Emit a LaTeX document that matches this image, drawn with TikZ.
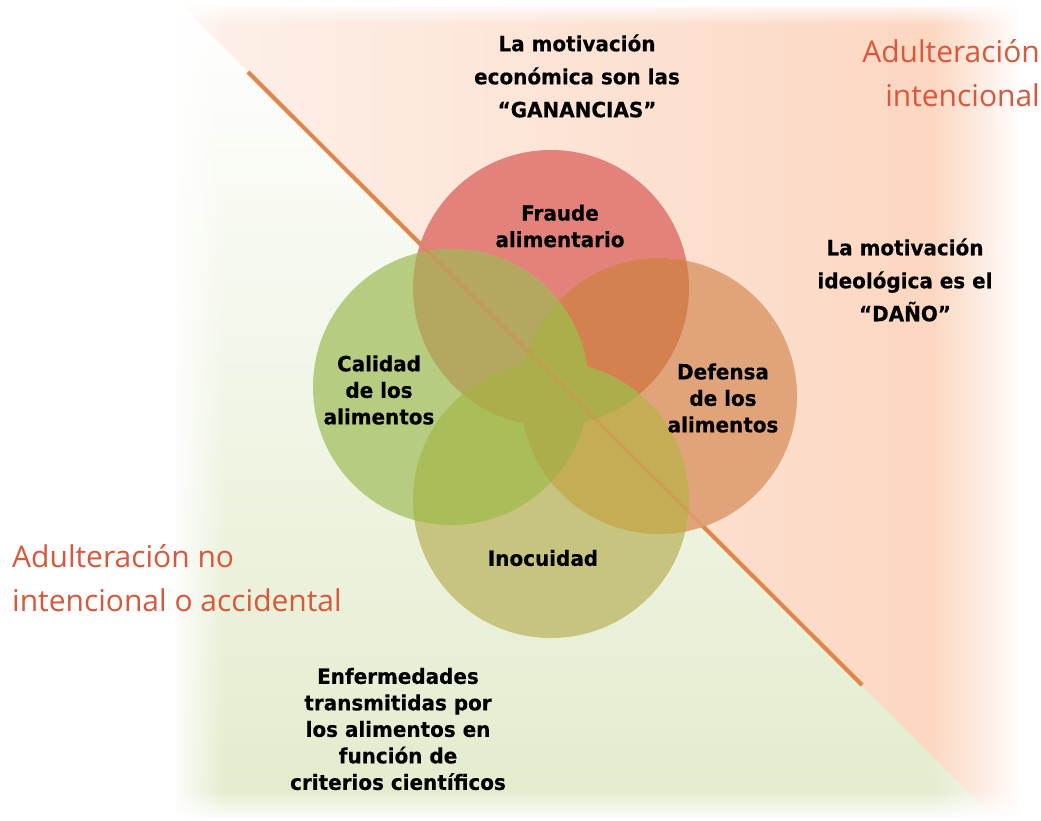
\documentclass[tikz,border=0pt]{standalone}
\usepackage{fontspec}
\setmainfont{Open Sans}
\newfontfamily\lblfont{DejaVu Sans}[FakeStretch=0.95, BoldFeatures={FakeBold=0.3}]
\usetikzlibrary{fadings}
\definecolor{advred}{HTML}{D9583B}
\definecolor{peachL}{HTML}{FDF1EA}
\definecolor{peachR}{HTML}{FCD6C0}
\definecolor{greenbg}{HTML}{E2EBCB}
\definecolor{cfraude}{HTML}{E3827A}
\definecolor{ccalidad}{HTML}{B6CC80}
\definecolor{cdefensa}{HTML}{E1A47A}
\definecolor{cinocuidad}{HTML}{C6C47E}
\definecolor{oFC}{HTML}{B4A760}
\definecolor{oFD}{HTML}{D5814F}
\definecolor{oCI}{HTML}{A9BD58}
\definecolor{oDI}{HTML}{C4AD55}
\definecolor{oCen}{HTML}{ABAE4A}
\definecolor{cline}{HTML}{E0854C}
\tikzset{
  lbl/.style={font=\lblfont\bfseries\fontsize{21}{26.5}\selectfont, align=center, text=black, inner sep=0pt},
  lblwide/.style={lbl, font=\lblfont\bfseries\fontsize{21}{33}\selectfont},
  adv/.style={font=\fontsize{30}{44}\selectfont, text=advred, inner sep=0pt},
  venn/.style={circle, minimum size=276pt, inner sep=0pt, draw=none},
}
\begin{document}
\begin{tikzpicture}[x=1pt,y=-1pt]
\useasboundingbox (0,0) rectangle (1041,821);
\fill[white] (0,0) rectangle (1041,821);
% backgrounds
\begin{scope}
  \clip (176,8) rectangle (1018,816);
  \shade[left color=peachL, right color=peachR] (176,0) -- (960,0) -- (960,844) -- cycle;
  \fill[peachR] (960,0) rectangle (1020,844);
  \shade[shading angle=-45, top color=white, bottom color=greenbg] (176,0) -- (1020,844) -- (176,844) -- cycle;
\end{scope}
% soft edges
\fill[white, path fading=east] (170,0) rectangle (225,821);
\fill[white, path fading=west] (930,0) rectangle (1022,821);
\fill[white, path fading=north] (170,790) rectangle (1025,821);
\fill[white, path fading=south] (170,0) rectangle (1025,25);
% diagonal
\coordinate (d1) at (248,72);
\coordinate (d2) at (862,685);
\draw[cline, line width=4pt] (d1) -- (d2);
% circles
\def\rr{138}
\node[venn, fill=cfraude] (fra) at (551,288) {};
\node[venn, fill=cdefensa] (def) at (659,396) {};
\node[venn, fill=ccalidad] (cal) at (451,387) {};
\node[venn, fill=cinocuidad] (ino) at (551,500) {};
% overlaps
\begin{scope}\clip (fra.center) circle (\rr); \fill[oFC] (cal.center) circle (\rr); \end{scope}
\begin{scope}\clip (fra.center) circle (\rr); \fill[oFD] (def.center) circle (\rr); \end{scope}
\begin{scope}\clip (ino.center) circle (\rr); \fill[oCI] (cal.center) circle (\rr); \end{scope}
\begin{scope}\clip (ino.center) circle (\rr); \fill[oDI] (def.center) circle (\rr); \end{scope}
\begin{scope}\clip (fra.center) circle (\rr); \fill[oCen] (ino.center) circle (\rr); \end{scope}
\begin{scope}\clip (cal.center) circle (\rr); \fill[oCen] (def.center) circle (\rr); \end{scope}
% line seen through circles
\draw[cline, line width=4pt, opacity=0.3] (d1) -- (d2);
% labels
\node[lbl] (tfra) at (560,226) {Fraude\\alimentario};
\node[lbl] (tcal) at (379,390) {Calidad\\de los\\alimentos};
\node[lbl] (tdef) at (723,398) {Defensa\\de los\\alimentos};
\node[lbl] (tino) at (543,558) {Inocuidad};
\node[lblwide] (tgan) at (577,76) {La motivación\\económica son las\\“GANANCIAS”};
\node[lblwide] (tdan) at (905,280) {La motivación\\ideológica es el\\“DAÑO”};
\node[lbl] (tenf) at (398,729) {Enfermedades\\transmitidas por\\los alimentos en\\función de\\criterios científicos};
\node[adv, anchor=north east, align=right] (aint) at (1040,39) {Adulteración\\intencional};
\node[adv, anchor=north west, align=left] (anoint) at (12,544) {Adulteración no\\intencional o accidental};
\end{tikzpicture}
\end{document}
